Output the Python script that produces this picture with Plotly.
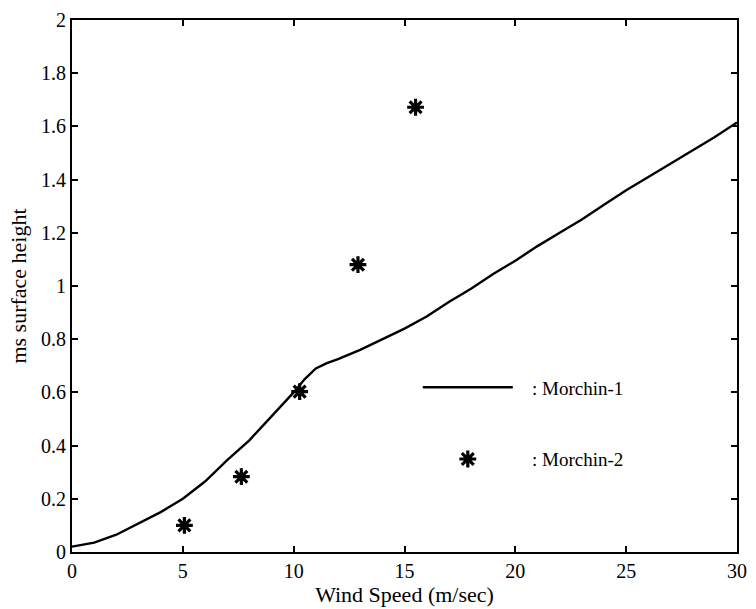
import plotly.graph_objects as go

# Morchin-1 curve (wind speed m/s -> rms surface height)
line_x = [0, 1, 2, 3, 4, 5, 6, 7, 8, 9, 10, 10.5, 11, 11.5, 12, 13, 14, 15, 16, 17, 18,
          19, 20, 21, 22, 23, 24, 25, 26, 27, 28, 29, 30]
line_y = [0.02, 0.035, 0.065, 0.107, 0.15, 0.20, 0.265, 0.345, 0.42, 0.51, 0.60, 0.65,
          0.69, 0.71, 0.725, 0.76, 0.80, 0.84, 0.885, 0.94, 0.99, 1.045, 1.095, 1.15,
          1.20, 1.25, 1.305, 1.36, 1.41, 1.46, 1.51, 1.56, 1.615]

# Morchin-2 points
pts_x = [5.07, 7.64, 10.27, 12.9, 15.5]
pts_y = [0.10, 0.283, 0.603, 1.08, 1.672]

x_ticks = [0, 5, 10, 15, 20, 25, 30]
y_ticks = [0, 0.2, 0.4, 0.6, 0.8, 1, 1.2, 1.4, 1.6, 1.8, 2]

FONT = "Liberation Serif"
NB = "\u00a0"

fig = go.Figure()
fig.add_trace(go.Scatter(x=line_x, y=line_y, mode="lines", name=NB * 3 + ": Morchin-1",
                         line=dict(color="black", width=2.4), legendgroup="a"))
fig.add_trace(go.Scatter(x=pts_x, y=pts_y, mode="markers", name=NB * 3 + ": Morchin-2",
                         marker=dict(symbol="asterisk-open", size=14, color="black",
                                     line=dict(color="black", width=3.2)),
                         legendgroup="b"))

axis_common = dict(showline=True, linecolor="black", linewidth=2, mirror="ticks",
                   ticks="inside", ticklen=6, tickwidth=1.5, tickcolor="black",
                   showgrid=False, zeroline=False,
                   tickfont=dict(family=FONT, size=20, color="black"))

fig.update_xaxes(range=[0, 30], tickvals=x_ticks, ticktext=[str(v) for v in x_ticks],
                 title=dict(text="Wind Speed (m/sec)", font=dict(family=FONT, size=22, color="black"),
                            standoff=3),
                 **axis_common)
fig.update_yaxes(range=[0, 2], tickvals=y_ticks, ticktext=[("%g" % v) for v in y_ticks],
                 title=dict(text="ms surface height", font=dict(family=FONT, size=22, color="black"),
                            standoff=8),
                 **axis_common)

fig.update_layout(
    width=756, height=609,
    margin=dict(l=72, r=9, t=15, b=57),
    paper_bgcolor="white", plot_bgcolor="white",
    font=dict(family=FONT, size=19, color="black"),
    showlegend=True,
    legend=dict(x=0.52, y=0.345, xanchor="left", yanchor="top",
                bgcolor="rgba(0,0,0,0)", borderwidth=0,
                itemwidth=90, tracegroupgap=44,
                font=dict(family=FONT, size=19, color="black")),
)

fig.write_html("out.html")
